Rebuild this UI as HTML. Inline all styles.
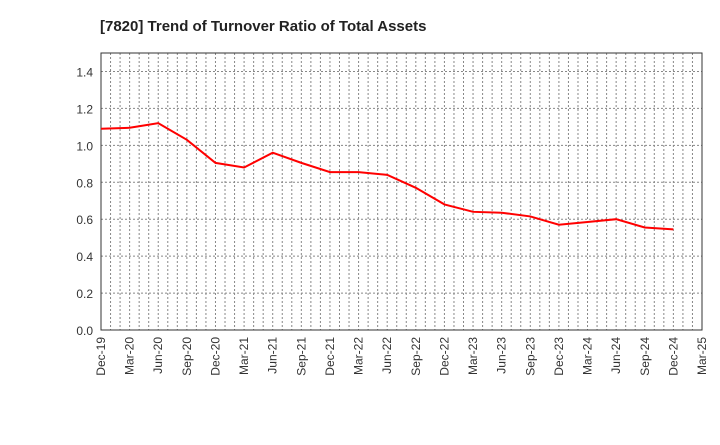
<!DOCTYPE html>
<html><head><meta charset="utf-8"><style>
body{margin:0;background:#fff;font-family:"Liberation Sans",sans-serif}
</style></head><body>
<svg id="chart" width="720" height="440" xmlns="http://www.w3.org/2000/svg" font-family="Liberation Sans, sans-serif">
<text x="100" y="31" font-size="15" font-weight="bold" fill="#222">[7820]  Trend of Turnover Ratio of Total Assets</text>
<g id="grid"></g><g id="axes"></g><g id="series"></g>
</svg>
<script>
const xLabels=["Dec-19","Mar-20","Jun-20","Sep-20","Dec-20","Mar-21","Jun-21","Sep-21","Dec-21","Mar-22","Jun-22","Sep-22","Dec-22","Mar-23","Jun-23","Sep-23","Dec-23","Mar-24","Jun-24","Sep-24","Dec-24","Mar-25"];
const values=[1.09,1.095,1.12,1.03,0.905,0.88,0.96,0.905,0.855,0.855,0.84,0.77,0.68,0.64,0.635,0.615,0.57,0.585,0.60,0.555,0.545];
const yTicks=[0,0.2,0.4,0.6,0.8,1.0,1.2,1.4];
const L=101,R=702,T=53,B=330,yMax=1.5;
const NS="http://www.w3.org/2000/svg";
const xs=i=>L+(R-L)*i/(xLabels.length-1);
const ys=v=>B-(B-T)*v/yMax;
const grid=document.getElementById('grid'),axes=document.getElementById('axes'),ser=document.getElementById('series');
function mk(tag,attrs,parent){const e=document.createElementNS(NS,tag);for(const k in attrs)e.setAttribute(k,attrs[k]);parent.appendChild(e);return e;}
const nMonths=(xLabels.length-1)*3;
for(let m=1;m<nMonths;m++){const x=L+(R-L)*m/nMonths;
const g=mk('line',{x1:x,x2:x,y1:T,y2:B,stroke:'#888','stroke-width':1,'stroke-dasharray':'2,2'},grid);

}
yTicks.forEach(v=>{const y=ys(v);
if(v>0){const g=mk('line',{x1:L,x2:R,y1:y,y2:y,stroke:'#888','stroke-width':1,'stroke-dasharray':'2,2'},grid);

}
const t=mk('text',{x:L-8,y:y+5,'text-anchor':'end','font-size':12,fill:'#333'},axes);t.textContent=v.toFixed(1);

});
xLabels.forEach((lb,i)=>{const x=xs(i);
const t=mk('text',{transform:`translate(${x+4},${B+7}) rotate(-90)`,'text-anchor':'end','font-size':12,fill:'#333'},axes);t.textContent=lb;

});
const frame=mk('rect',{x:L,y:T,width:R-L,height:B-T,fill:'none',stroke:'#333','stroke-width':1},axes);


const pts=values.map((v,i)=>xs(i)+','+ys(v)).join(' ');
const line=mk('polyline',{points:pts,fill:'none',stroke:'#f00','stroke-width':2},ser);


</script>
</body></html>
